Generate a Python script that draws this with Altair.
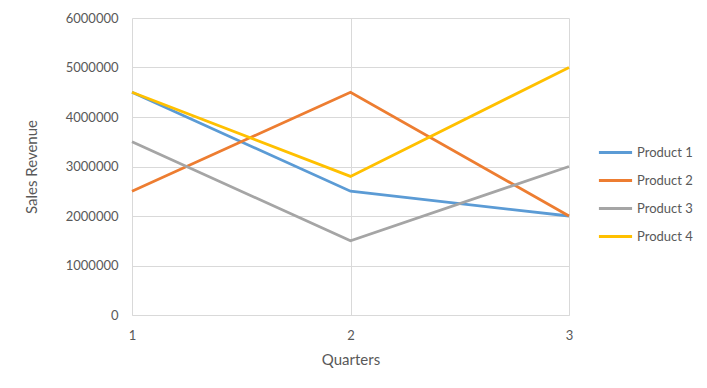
import altair as alt
import pandas as pd

quarters = [1, 2, 3]
products = ["Product 1", "Product 2", "Product 3", "Product 4"]
product1 = [4500000, 2500000, 2000000]
product2 = [2500000, 4500000, 2000000]
product3 = [3500000, 1500000, 3000000]
product4 = [4500000, 2800000, 5000000]
colors = ["#5B9BD5", "#ED7D31", "#A5A5A5", "#FFC000"]

rows = []
for name, vals in zip(products, [product1, product2, product3, product4]):
    for q, v in zip(quarters, vals):
        rows.append({"Quarter": q, "Revenue": v, "Product": name})
df = pd.DataFrame(rows)

FONT = "Lato"
TXT = "#595959"

chart = alt.Chart(df).mark_line(strokeWidth=2.8).encode(
    x=alt.X("Quarter:O", title="Quarters",
            scale=alt.Scale(type="point", padding=0),
            axis=alt.Axis(grid=True, ticks=False, labelAngle=0,
                          labelPadding=14, titlePadding=10)),
    y=alt.Y("Revenue:Q", title="Sales Revenue",
            scale=alt.Scale(domain=[0, 6000000], nice=False),
            axis=alt.Axis(values=[0, 1000000, 2000000, 3000000, 4000000, 5000000, 6000000],
                          format="d", grid=True, ticks=False, domain=False,
                          labelFlush=False, labelOverlap=False,
                          labelPadding=14, titlePadding=26)),
    color=alt.Color("Product:N", scale=alt.Scale(domain=products, range=colors),
                    legend=alt.Legend(title=None, orient="none", legendX=465, legendY=116,
                                      symbolType="stroke", symbolSize=1100,
                                      symbolStrokeWidth=3, rowPadding=2,
                                      labelOffset=3, labelFontSize=13,
                                      labelFont=FONT, labelColor=TXT)),
).properties(
    width=437, height=297,
    autosize=alt.AutoSizeParams(type="none"),
    padding={"left": 124, "top": 10, "right": 130, "bottom": 65},
).configure_view(stroke=None).configure_axis(
    gridColor="#D9D9D9", domainColor="#D9D9D9",
    labelFont=FONT, labelFontSize=13, labelColor=TXT,
    titleFont=FONT, titleFontSize=15, titleColor=TXT, titleFontWeight="normal",
)

chart.save("out.html", embed_options={"renderer": "svg", "actions": False})
